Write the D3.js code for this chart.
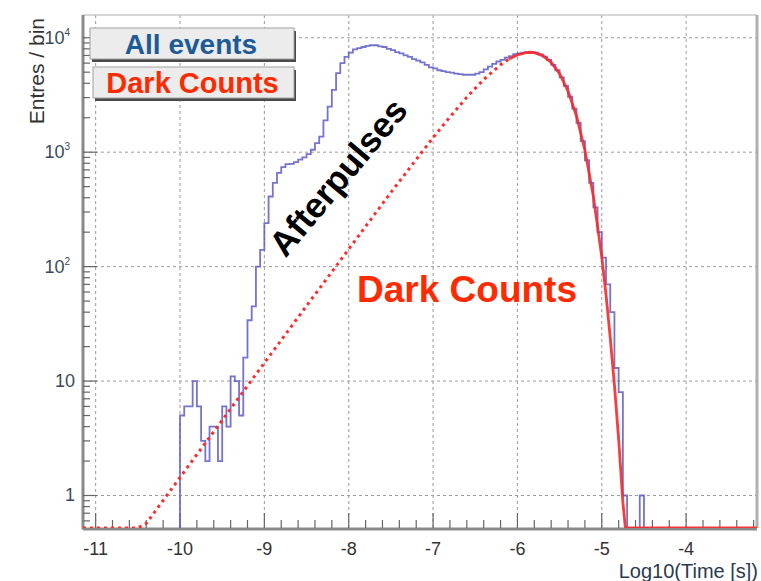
<!DOCTYPE html>
<html>
<head>
<meta charset="utf-8">
<script src="https://cdn.jsdelivr.net/npm/d3@7"></script>
<style>
  body { margin: 0; background: #fff; }
  text { font-family: "Liberation Sans", Arial, Helvetica, sans-serif; }
</style>
</head>
<body>
<svg id="chart" width="761" height="581"></svg>
<script>
// histogram "All events": bins of 0.05 starting at -10
var binStart = -10.0;
var binWidth = 0.05;
var allEvents = [
  5, 6, 6, 10, 6, 3, 2, 4, 4, 2,
  6, 4, 11, 10, 5, 16, 34, 45, 100, 140,
  240, 410, 540, 660, 740, 785, 790, 820, 860, 900,
  960, 1050, 1200, 1370, 1900, 2500, 3500, 4900, 6000, 6800,
  7400, 7900, 8100, 8300, 8500, 8600, 8600, 8400, 8300, 8000,
  7800, 7500, 7300, 7000, 6800, 6500, 6300, 6100, 5800, 5500,
  5400, 5200, 5100, 5000, 4950, 4850, 4800, 4750, 4750, 4750,
  4850, 5000, 5300, 5600, 5900, 6200, 6400, 6700, 6900, 7200,
  7300, 7400, 7450, 7450, 7400, 7150, 6850, 6400, 5800, 5200,
  4500, 3800, 3050, 2400, 1800, 1250, 850, 540, 330, 200,
  120, 70, 40, 13, 8, 1, 0, 0, 0, 1,
  0
];

// fitted "Dark Counts" curve
var darkX = [-11.15, -10.5, -10.4, -10.0, -9.5, -9.0, -8.5, -8.0, -7.5, -7.0, -6.8, -6.6, -6.4, -6.2, -6.1,
             -6.0, -5.9, -5.85, -5.8, -5.7, -5.6, -5.5, -5.4, -5.3, -5.2, -5.1, -5.0, -4.95, -4.9, -4.85,
             -4.8, -4.75, -4.72, -3.16];
var darkY = [0.1, 0.45, 0.57, 1.44, 4.55, 14.4, 45.4, 142, 445, 1340, 2030, 3020, 4320, 5800, 6510,
             7080, 7420, 7470, 7420, 6980, 6100, 4850, 3420, 2070, 1040, 413, 121, 57, 24, 9.2,
             3.1, 0.87, 0.38, 0];
var solidFrom = -6.1;

var xTicks = [-11, -10, -9, -8, -7, -6, -5, -4];
var yTicks = [1, 10, 100, 1000, 10000];
var yTickBase = ["1", "10", "10", "10", "10"];
var yTickExp = ["", "", "2", "3", "4"];

var legendLabels = ["All events", "Dark Counts"];
var legendColors = ["#1d5a98", "#ff2a00"];

var pLeft = 83, pRight = 757, pTop = 15, pBottom = 528;
var yMin = 0.52, yMax = 15800;

var svg = d3.select("#chart");

var x = d3.scaleLinear().domain([-11.15, -3.16]).range([pLeft, pRight]);
var y = d3.scaleLog().domain([yMin, yMax]).range([pBottom, pTop]);

svg.append("defs").append("clipPath").attr("id", "plot")
  .append("rect").attr("x", pLeft).attr("y", pTop - 2).attr("width", pRight - pLeft).attr("height", pBottom - pTop + 2);

// grid
var grid = svg.append("g").attr("stroke", "#9a9a9a").attr("stroke-width", 1).attr("stroke-dasharray", "3,3");
grid.selectAll(".gx").data(xTicks).enter().append("line")
  .attr("x1", function(d) { return x(d); }).attr("x2", function(d) { return x(d); })
  .attr("y1", pTop).attr("y2", pBottom);
grid.selectAll(".gy").data(yTicks).enter().append("line")
  .attr("x1", pLeft).attr("x2", pRight)
  .attr("y1", function(d) { return y(d); }).attr("y2", function(d) { return y(d); });

// frame
svg.append("line").attr("x1", pLeft).attr("x2", pRight).attr("y1", pTop).attr("y2", pTop)
  .attr("stroke", "#c8c8c8").attr("stroke-width", 1.5);
svg.append("line").attr("x1", pRight).attr("x2", pRight).attr("y1", pTop).attr("y2", pBottom)
  .attr("stroke", "#b0b0b0").attr("stroke-width", 3);
svg.append("line").attr("x1", pLeft).attr("x2", pLeft).attr("y1", pTop).attr("y2", pBottom + 1.5)
  .attr("stroke", "#8a8a8a").attr("stroke-width", 3);
svg.append("line").attr("x1", pLeft).attr("x2", pRight).attr("y1", pBottom + 1).attr("y2", pBottom + 1)
  .attr("stroke", "#8a8a8a").attr("stroke-width", 3);

// minor ticks
var minorY = [];
for (var e = -1; e <= 4; e++) {
  for (var m = 1; m <= 9; m++) {
    var v = m * Math.pow(10, e);
    if (v >= yMin && v <= yMax) minorY.push(v);
  }
}
var ticks = svg.append("g").attr("stroke", "#666").attr("stroke-width", 1.2);
ticks.selectAll(".ty").data(minorY).enter().append("line")
  .attr("x1", pLeft).attr("x2", function(d) { return yTicks.indexOf(d) >= 0 ? pLeft + 14 : pLeft + 7; })
  .attr("y1", function(d) { return y(d); }).attr("y2", function(d) { return y(d); });

var minorX = d3.range(-55, -15).map(function(i) { return i / 5; });
ticks.selectAll(".tx").data(minorX).enter().append("line")
  .attr("x1", function(d) { return x(d); }).attr("x2", function(d) { return x(d); })
  .attr("y1", pBottom)
  .attr("y2", function(d) { return Math.abs(d - Math.round(d)) < 1e-6 ? pBottom - 15 : pBottom - 8; });

// histogram as step line
var pts = [[binStart, yMin]];
allEvents.forEach(function(c, i) {
  var v = Math.max(c, yMin);
  pts.push([binStart + i * binWidth, v]);
  pts.push([binStart + (i + 1) * binWidth, v]);
});
pts.push([binStart + allEvents.length * binWidth, yMin]);

var line = d3.line().x(function(d) { return x(d[0]); }).y(function(d) { return y(d[1]); });

var plot = svg.append("g").attr("clip-path", "url(#plot)");
plot.append("path").datum(pts)
  .attr("d", line)
  .attr("fill", "none")
  .attr("stroke", "#5b5bc9")
  .attr("stroke-width", 1.8)
  .attr("stroke-opacity", 0.85);

// dark counts curve
var darkPts = darkX.map(function(d, i) { return [d, Math.max(darkY[i], yMin)]; });
var dotted = darkPts.filter(function(d) { return d[0] <= solidFrom; });
var solid = darkPts.filter(function(d) { return d[0] >= solidFrom; });
plot.append("path").datum(dotted)
  .attr("d", line).attr("fill", "none")
  .attr("stroke", "#ff2b2b").attr("stroke-width", 3)
  .attr("stroke-dasharray", "3,4");
plot.append("path").datum(solid)
  .attr("d", line).attr("fill", "none")
  .attr("stroke", "#f72828").attr("stroke-width", 2.8)
  .attr("stroke-opacity", 0.9);

// tick labels
svg.append("g").selectAll("text").data(xTicks).enter().append("text")
  .attr("x", function(d) { return x(d); })
  .attr("y", 555)
  .attr("text-anchor", "middle")
  .attr("font-size", 18)
  .attr("fill", "#333")
  .text(function(d) { return d; });

var yl = svg.append("g").selectAll("text").data(yTicks).enter().append("text")
  .attr("x", function(d, i) { return yTickExp[i] ? 70 : 75; })
  .attr("y", function(d) { return y(d) + 6; })
  .attr("text-anchor", "end")
  .attr("font-size", 18)
  .attr("fill", "#3a4a5a");
yl.append("tspan").text(function(d, i) { return yTickBase[i]; });
yl.append("tspan").attr("dy", -8).attr("font-size", 10).text(function(d, i) { return yTickExp[i]; });

// axis titles
svg.append("text")
  .attr("transform", "translate(44,18) rotate(-90)")
  .attr("text-anchor", "end")
  .attr("font-size", 21)
  .attr("fill", "#333")
  .text("Entres / bin");
svg.append("text")
  .attr("x", 758).attr("y", 578)
  .attr("text-anchor", "end")
  .attr("font-size", 20)
  .attr("fill", "#2a3a50")
  .text("Log10(Time [s])");

// legend boxes
var boxes = [{x: 90, y: 28, w: 204, h: 31}, {x: 93, y: 67, w: 201, h: 31}];
var leg = svg.append("g").selectAll("g").data(legendLabels).enter().append("g");
leg.append("rect")
  .attr("x", function(d, i) { return boxes[i].x + 2; })
  .attr("y", function(d, i) { return boxes[i].y + 3; })
  .attr("width", function(d, i) { return boxes[i].w; })
  .attr("height", function(d, i) { return boxes[i].h; })
  .attr("fill", "#4a4a4a");
leg.append("rect")
  .attr("x", function(d, i) { return boxes[i].x; })
  .attr("y", function(d, i) { return boxes[i].y; })
  .attr("width", function(d, i) { return boxes[i].w; })
  .attr("height", function(d, i) { return boxes[i].h; })
  .attr("fill", "#ececec")
  .attr("stroke", "#a0a0a0")
  .attr("stroke-width", 1);
leg.append("text")
  .attr("x", function(d, i) { return boxes[i].x + boxes[i].w / 2 - 1; })
  .attr("y", function(d, i) { return boxes[i].y + 26; })
  .attr("text-anchor", "middle")
  .attr("font-size", function(d, i) { return i ? 29 : 28; })
  .attr("font-weight", "bold")
  .attr("fill", function(d, i) { return legendColors[i]; })
  .text(function(d) { return d; });

// annotations
svg.append("text")
  .attr("transform", "translate(338,177) rotate(-50)")
  .attr("text-anchor", "middle")
  .attr("dy", "0.35em")
  .attr("font-size", 35)
  .attr("font-weight", "bold")
  .attr("fill", "#000")
  .text("Afterpulses");
svg.append("text")
  .attr("x", 467).attr("y", 302)
  .attr("text-anchor", "middle")
  .attr("font-size", 37)
  .attr("font-weight", "bold")
  .attr("fill", "#ff2a00")
  .text("Dark Counts");
</script>
</body>
</html>
